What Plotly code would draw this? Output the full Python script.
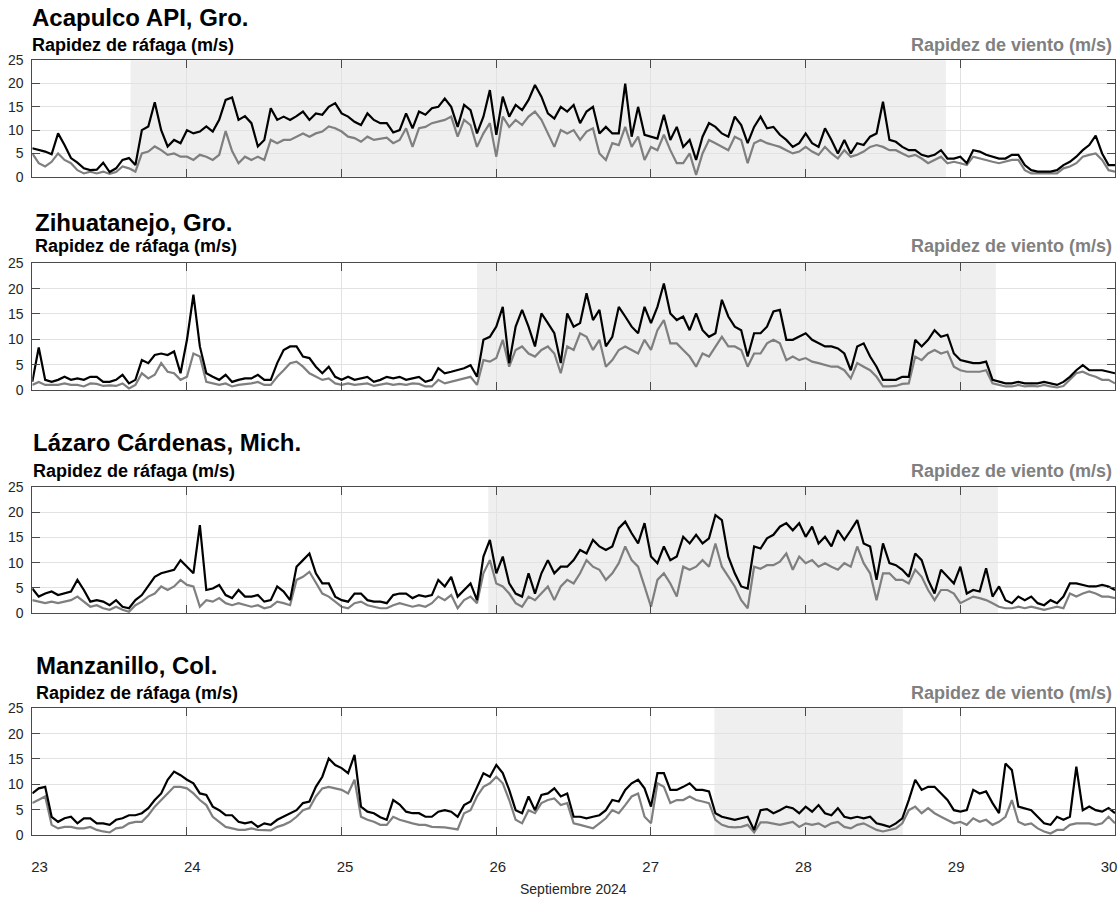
import plotly.graph_objects as go
import pandas as pd

# ---------------- data ----------------
start_time = "2024-09-23 00:00"
end_time = "2024-09-30 00:00"
times = pd.date_range(start_time, end_time, freq="1h")  # hourly, 169 samples

stations = ["Acapulco API, Gro.", "Zihuatanejo, Gro.", "Lázaro Cárdenas, Mich.", "Manzanillo, Col."]

day_ticks = ["2024-09-23", "2024-09-24", "2024-09-25", "2024-09-26",
             "2024-09-27", "2024-09-28", "2024-09-29", "2024-09-30"]
day_labels = ["23", "24", "25", "26", "27", "28", "29", "30"]
y_ticks = [0, 5, 10, 15, 20, 25]
x_axis_title = "Septiembre 2024"
gust_label = "Rapidez de ráfaga (m/s)"
wind_label = "Rapidez de viento (m/s)"

# shaded (alert) periods per station
shade_periods = [
    ("2024-09-23 15:15", "2024-09-28 21:45"),
    ("2024-09-25 21:00", "2024-09-29 05:30"),
    ("2024-09-25 22:45", "2024-09-29 05:50"),
    ("2024-09-27 09:50", "2024-09-28 15:05"),
]

acapulco_gust = [
    6.1, 5.7, 5.4, 4.8, 9.3, 6.8, 4.0, 3.0, 1.8, 1.4, 1.5, 3.0,
    1.0, 1.8, 3.6, 4.0, 2.5, 10.0, 10.8, 16.0, 10.0, 6.5, 7.9, 7.2,
    10.0, 9.3, 9.7, 10.8, 9.7, 12.2, 16.5, 17.0, 12.2, 13.0, 11.5, 6.5,
    7.9, 14.7, 12.2, 12.9, 12.2, 13.0, 14.0, 12.2, 13.6, 13.3, 15.0, 15.8,
    13.6, 12.9, 11.8, 11.1, 13.6, 12.2, 11.5, 11.5, 9.5, 10.0, 13.6, 10.4,
    14.0, 13.3, 14.7, 15.0, 16.8, 15.0, 10.7, 15.4, 14.3, 9.3, 12.9, 18.6,
    9.0, 17.2, 12.9, 15.4, 14.3, 16.5, 19.7, 17.2, 13.6, 12.5, 15.0, 14.0,
    15.4, 11.5, 14.0, 15.0, 9.3, 10.7, 9.3, 9.3, 20.0, 8.6, 15.0, 9.0,
    8.6, 8.2, 13.3, 7.9, 10.7, 6.4, 7.9, 3.6, 8.6, 11.5, 10.7, 9.3,
    8.6, 12.9, 11.1, 7.2, 10.7, 12.9, 10.4, 10.7, 9.0, 7.9, 6.4, 7.2,
    9.3, 7.2, 6.4, 10.4, 7.9, 5.0, 7.9, 5.0, 7.2, 6.8, 8.6, 9.3,
    16.1, 7.9, 7.5, 6.4, 5.7, 5.7, 4.7, 4.3, 4.7, 5.7, 3.9, 3.9,
    4.3, 2.9, 5.7, 5.4, 4.7, 4.3, 3.9, 3.9, 4.7, 4.7, 2.5, 1.4,
    1.1, 1.1, 1.1, 1.4, 2.5, 3.2, 4.3, 5.7, 6.8, 8.8, 5.0, 2.5,
    2.5,
]
acapulco_wind = [
    5.0, 2.9, 2.2, 3.2, 5.0, 3.6, 2.9, 1.4, 0.7, 1.1, 0.7, 1.1,
    0.6, 1.0, 2.2, 1.8, 1.1, 5.0, 5.4, 6.5, 5.7, 4.7, 5.0, 4.3,
    4.3, 3.6, 4.7, 4.3, 3.6, 4.7, 9.8, 5.5, 2.9, 4.3, 3.6, 4.3,
    3.6, 7.9, 7.2, 7.9, 7.9, 8.6, 9.3, 8.6, 9.3, 9.7, 10.8, 10.4,
    9.7, 8.6, 8.3, 7.5, 8.6, 7.9, 8.2, 8.4, 7.2, 7.9, 10.4, 6.4,
    10.4, 10.7, 11.5, 11.8, 12.2, 12.9, 8.6, 12.2, 11.1, 6.4, 9.3, 11.5,
    4.3, 12.9, 10.7, 12.2, 11.1, 12.9, 14.0, 12.2, 9.3, 6.4, 10.0, 9.3,
    10.0, 7.9, 9.7, 10.4, 5.0, 3.6, 7.2, 6.8, 10.7, 6.4, 8.6, 3.6,
    6.4, 5.7, 9.0, 5.7, 2.9, 2.9, 5.0, 0.4, 5.0, 7.9, 7.2, 6.4,
    5.7, 8.6, 7.9, 2.9, 7.2, 7.9, 7.2, 6.8, 6.4, 5.7, 5.0, 5.4,
    6.4, 5.4, 4.7, 6.4, 5.0, 3.9, 5.7, 4.3, 4.7, 5.4, 6.4, 6.8,
    6.4, 5.7, 5.7, 5.0, 4.3, 4.7, 3.9, 2.9, 3.6, 4.3, 2.9, 3.2,
    2.9, 2.5, 4.3, 3.9, 3.6, 3.2, 2.9, 3.2, 3.6, 3.6, 1.4, 0.7,
    0.7, 0.6, 0.7, 0.7, 1.8, 2.2, 2.9, 4.3, 4.7, 5.0, 3.6, 1.4,
    1.1,
]

zihuatanejo_gust = [
    1.6, 8.4, 2.0, 1.6, 2.0, 2.6, 2.0, 2.3, 2.0, 2.6, 2.6, 1.6,
    1.6, 2.0, 3.0, 1.3, 2.0, 5.9, 5.3, 6.9, 7.2, 6.9, 7.6, 3.3,
    9.9, 18.8, 8.6, 3.3, 2.6, 2.0, 3.0, 1.6, 2.0, 2.3, 2.3, 3.0,
    2.0, 2.0, 5.3, 7.9, 8.6, 8.6, 6.6, 6.3, 4.6, 3.3, 4.6, 2.6,
    2.0, 2.6, 2.0, 2.3, 2.6, 1.6, 2.0, 2.6, 2.3, 2.6, 2.0, 2.3,
    2.6, 1.6, 2.0, 4.3, 3.3, 3.6, 3.9, 4.3, 4.9, 2.6, 9.9, 10.5,
    12.5, 16.4, 5.3, 12.5, 15.8, 12.5, 8.6, 15.1, 13.2, 11.2, 5.3, 15.1,
    12.5, 13.2, 19.1, 13.8, 15.8, 8.6, 10.5, 16.4, 14.5, 12.5, 11.2, 16.4,
    13.2, 16.4, 21.0, 15.1, 13.8, 14.5, 11.8, 15.1, 11.8, 10.5, 11.2, 17.8,
    14.5, 12.5, 11.8, 6.6, 11.2, 11.2, 12.5, 15.5, 15.8, 9.9, 9.9, 10.5,
    11.2, 9.9, 9.2, 8.6, 8.6, 8.2, 7.2, 3.9, 8.6, 9.2, 6.6, 4.6,
    2.0, 2.0, 2.0, 2.6, 2.6, 9.9, 8.6, 9.9, 11.8, 10.5, 10.9, 7.2,
    5.9, 5.6, 5.3, 5.3, 5.6, 2.0, 1.6, 1.3, 1.3, 1.6, 1.3, 1.3,
    1.3, 1.6, 1.3, 1.0, 1.6, 2.6, 3.9, 4.9, 3.9, 3.9, 3.9, 3.6,
    3.3,
]
zihuatanejo_wind = [
    1.0, 1.6, 1.0, 1.0, 1.0, 1.3, 1.0, 1.0, 0.7, 1.3, 1.2, 0.8,
    0.9, 0.8, 1.3, 0.3, 1.0, 3.3, 2.3, 3.0, 5.3, 3.6, 3.3, 2.0,
    2.6, 7.2, 6.6, 1.6, 1.3, 1.0, 1.3, 0.7, 1.0, 1.1, 1.3, 1.6,
    1.0, 1.0, 2.6, 3.9, 5.3, 5.6, 4.6, 3.3, 2.6, 2.0, 2.3, 1.3,
    1.0, 1.3, 1.0, 1.1, 1.3, 0.8, 1.0, 1.3, 1.0, 1.2, 1.0, 1.3,
    1.2, 0.7, 0.7, 2.0, 1.3, 1.6, 2.0, 2.3, 2.6, 1.0, 5.9, 5.6,
    6.3, 9.9, 4.6, 7.9, 8.6, 7.2, 6.6, 7.9, 8.6, 7.2, 3.3, 8.6,
    7.9, 11.2, 10.5, 7.9, 9.9, 4.6, 5.9, 7.9, 8.6, 7.9, 7.2, 9.9,
    7.9, 11.8, 13.8, 9.2, 9.2, 7.9, 6.6, 4.6, 7.2, 6.6, 8.6, 10.5,
    8.6, 8.6, 7.9, 4.6, 7.2, 7.2, 9.2, 9.9, 9.2, 5.9, 6.6, 5.9,
    6.3, 5.6, 5.3, 4.9, 4.6, 4.6, 3.9, 2.3, 5.3, 4.6, 3.9, 2.6,
    0.7, 0.7, 0.8, 1.2, 1.3, 6.6, 5.9, 7.2, 7.9, 7.2, 7.6, 4.6,
    3.9, 3.6, 3.6, 3.6, 3.9, 1.3, 1.0, 0.7, 0.7, 1.0, 0.7, 0.8,
    0.7, 1.0, 0.7, 0.5, 0.8, 2.0, 3.3, 3.6, 3.0, 2.6, 2.0, 2.0,
    1.3,
]

lazaro_gust = [
    4.9, 3.3, 3.9, 4.3, 3.6, 3.9, 4.3, 6.6, 4.6, 2.3, 2.6, 2.3,
    1.6, 2.6, 1.3, 1.0, 2.6, 3.6, 5.3, 7.2, 7.9, 8.2, 8.6, 10.5,
    9.2, 7.9, 17.4, 4.6, 4.9, 5.6, 3.6, 3.0, 4.6, 3.3, 3.3, 3.6,
    2.3, 2.6, 5.3, 4.3, 2.6, 9.2, 10.5, 11.8, 7.9, 5.9, 5.9, 3.3,
    2.6, 2.3, 3.9, 3.9, 2.6, 2.3, 2.3, 2.0, 3.6, 3.9, 3.9, 3.0,
    3.6, 3.3, 3.6, 6.6, 5.3, 7.2, 3.3, 4.6, 5.9, 2.6, 11.2, 14.5,
    7.9, 11.2, 5.9, 3.9, 3.3, 7.9, 3.9, 7.9, 10.5, 7.9, 9.2, 9.2,
    10.5, 12.5, 11.8, 14.5, 13.2, 12.5, 13.2, 16.8, 18.1, 15.8, 13.8, 17.8,
    11.2, 9.9, 13.2, 10.5, 11.2, 15.1, 13.8, 15.5, 13.8, 14.8, 19.4, 18.4,
    11.2, 7.9, 5.3, 4.9, 13.2, 12.8, 14.8, 15.5, 17.1, 17.8, 16.4, 17.8,
    15.1, 17.1, 13.8, 15.1, 13.2, 16.4, 14.5, 16.4, 18.4, 13.8, 13.2, 6.6,
    13.8, 9.9, 9.5, 8.6, 7.2, 11.8, 10.5, 6.6, 3.9, 8.6, 7.2, 5.9,
    9.2, 3.9, 4.6, 4.3, 8.9, 3.3, 5.3, 2.6, 2.0, 3.3, 2.6, 3.3,
    2.0, 1.6, 2.6, 2.0, 3.3, 5.9, 5.9, 5.6, 5.3, 5.3, 5.6, 5.3,
    4.6,
]
lazaro_wind = [
    2.6, 2.3, 2.0, 2.3, 2.0, 2.3, 2.6, 3.3, 2.3, 1.3, 1.6, 1.0,
    0.7, 1.3, 0.7, 0.3, 1.6, 2.3, 3.3, 3.9, 5.3, 4.6, 5.3, 6.6,
    5.6, 5.3, 1.3, 2.6, 2.3, 3.0, 2.0, 1.6, 2.0, 1.6, 1.3, 1.6,
    1.0, 1.3, 2.3, 2.0, 1.6, 6.6, 7.2, 8.2, 5.9, 3.9, 3.3, 2.3,
    1.3, 1.0, 2.0, 2.3, 1.6, 1.3, 1.0, 1.0, 1.6, 2.0, 1.6, 1.3,
    1.6, 1.3, 2.0, 3.3, 2.6, 3.6, 1.0, 2.6, 3.3, 2.0, 7.9, 10.5,
    5.9, 5.3, 3.9, 2.0, 1.3, 3.3, 2.6, 3.9, 5.3, 2.6, 5.3, 6.6,
    5.9, 7.9, 10.5, 9.2, 8.6, 6.6, 7.9, 9.9, 13.2, 10.5, 9.2, 5.3,
    1.3, 6.6, 7.9, 5.9, 3.3, 9.2, 8.6, 9.2, 10.5, 9.2, 13.8, 9.2,
    7.2, 5.3, 2.6, 1.0, 9.2, 8.8, 9.5, 9.5, 10.2, 11.8, 8.6, 11.2,
    9.9, 10.5, 9.2, 9.9, 9.2, 8.6, 9.9, 9.2, 13.2, 9.9, 7.9, 2.6,
    7.9, 7.9, 6.6, 6.6, 5.9, 8.6, 7.2, 4.6, 2.6, 4.6, 4.6, 3.9,
    2.0, 2.6, 3.3, 3.0, 2.6, 2.0, 1.3, 1.0, 1.0, 1.3, 1.0, 1.3,
    1.0, 0.7, 1.0, 1.3, 1.0, 3.9, 3.3, 3.9, 4.3, 3.9, 3.3, 3.3,
    3.0,
]

manzanillo_gust = [
    8.2, 9.2, 9.5, 3.6, 2.6, 3.3, 3.6, 2.3, 3.3, 3.3, 2.3, 2.3,
    2.0, 3.0, 3.3, 3.9, 3.9, 4.3, 5.3, 6.9, 8.2, 10.9, 12.5, 11.8,
    10.9, 10.2, 8.2, 7.9, 5.6, 4.9, 3.9, 3.9, 2.6, 2.3, 2.6, 1.6,
    2.3, 2.0, 3.0, 3.6, 4.3, 4.9, 6.3, 6.6, 9.5, 11.5, 15.1, 13.8,
    13.2, 12.2, 15.8, 5.6, 4.6, 4.3, 3.5, 3.0, 6.9, 6.0, 4.6, 4.3,
    4.3, 3.6, 3.6, 4.6, 4.9, 4.6, 3.6, 5.9, 6.6, 9.5, 12.2, 11.5,
    13.8, 12.2, 8.9, 4.9, 4.3, 7.6, 4.9, 7.9, 8.2, 9.2, 7.6, 8.2,
    3.6, 3.6, 3.3, 3.6, 3.9, 4.9, 6.9, 6.6, 8.9, 10.2, 10.9, 9.2,
    5.6, 12.2, 12.2, 8.9, 8.9, 9.5, 10.2, 8.9, 8.9, 8.6, 4.3, 3.6,
    3.3, 3.0, 3.3, 3.6, 1.0, 4.9, 5.1, 4.3, 4.9, 5.6, 5.3, 4.3,
    5.6, 4.6, 5.9, 4.3, 3.9, 5.3, 3.6, 3.3, 3.6, 3.3, 3.6, 2.3,
    2.0, 1.6, 2.3, 3.3, 6.9, 10.9, 8.9, 9.5, 9.5, 8.2, 6.9, 4.9,
    4.6, 4.9, 8.9, 8.2, 8.6, 6.3, 4.3, 14.1, 12.8, 5.6, 5.3, 4.9,
    3.6, 2.3, 2.0, 3.6, 3.0, 3.6, 13.5, 4.9, 5.6, 4.9, 4.6, 5.3,
    4.3,
]
manzanillo_wind = [
    6.3, 6.9, 7.6, 2.0, 1.3, 1.6, 1.6, 1.3, 1.3, 1.6, 1.0, 0.7,
    0.5, 1.3, 1.5, 2.3, 2.6, 2.6, 3.9, 5.6, 6.9, 8.2, 9.5, 9.5,
    9.2, 8.2, 6.9, 5.9, 3.6, 2.6, 1.6, 1.3, 1.0, 1.0, 1.3, 1.0,
    1.0, 0.9, 1.6, 2.0, 2.6, 3.6, 4.9, 5.3, 7.6, 9.2, 9.5, 9.2,
    8.9, 8.2, 10.9, 3.6, 3.0, 2.6, 2.0, 2.0, 3.6, 3.0, 2.6, 2.3,
    2.0, 2.0, 1.6, 1.6, 1.5, 1.3, 1.1, 4.3, 4.9, 7.6, 9.5, 10.2,
    11.5, 10.2, 6.9, 3.0, 2.3, 4.9, 4.3, 6.3, 6.9, 7.2, 5.9, 6.3,
    2.3, 2.0, 1.6, 1.3, 2.3, 3.3, 4.9, 4.3, 5.9, 7.6, 8.2, 3.6,
    2.3, 10.2, 9.5, 6.3, 6.9, 6.9, 7.6, 6.9, 6.6, 6.3, 3.0, 2.0,
    1.6, 1.5, 1.6, 2.0, 0.5, 2.5, 2.5, 2.3, 2.0, 2.3, 2.6, 1.6,
    2.3, 2.0, 2.3, 1.6, 2.3, 2.6, 1.6, 1.3, 2.0, 2.3, 1.6, 1.0,
    0.7, 1.0, 1.3, 2.3, 4.9, 5.6, 4.3, 5.3, 4.3, 3.6, 3.0, 2.3,
    2.6, 2.0, 3.3, 2.6, 3.0, 2.0, 2.6, 3.6, 6.9, 2.6, 2.0, 2.3,
    1.3, 0.7, 0.3, 1.0, 1.0, 2.0, 2.3, 2.3, 2.3, 2.0, 2.3, 3.6,
    2.3,
]

gust_series = [acapulco_gust, zihuatanejo_gust, lazaro_gust, manzanillo_gust]
wind_series = [acapulco_wind, zihuatanejo_wind, lazaro_wind, manzanillo_wind]
for s in gust_series + wind_series:
    assert len(s) == len(times), len(s)

# ---------------- layout (pixel geometry) ----------------
W, H = 1119, 898
FONT = "Liberation Sans, Arial, Helvetica, sans-serif"
PLOT_L, PLOT_R = 32.3, 1115.0
panel_px = [(60.3, 176.7), (263.3, 390.0), (486.7, 613.3), (708.3, 835.0)]
title_y = [18, 222, 442, 665]
label_y = [45, 246, 471, 693]
title_x = [30, 33, 31, 34]

# the day labels under the last panel sit on a slightly narrower scale
LABEL_FIRST_PX, LABEL_LAST_PX = 39.5, 1109.0

GRID = "#e2e2e2"
FRAME = "#4a4a4a"


def py(v):
    return 1 - v / H


t0 = pd.Timestamp(start_time)
t1 = pd.Timestamp(end_time)
span = t1 - t0
px_per_time = (LABEL_LAST_PX - LABEL_FIRST_PX) / span.total_seconds()
lab_start = t0 - pd.Timedelta(seconds=(LABEL_FIRST_PX - PLOT_L) / px_per_time)
lab_end = t1 + pd.Timedelta(seconds=(PLOT_R - LABEL_LAST_PX) / px_per_time)

fig = go.Figure()
annotations = []
shapes = []
layout = {}

for i in range(4):
    sfx = "" if i == 0 else str(i + 1)
    xa, ya = "x" + sfx, "y" + sfx
    fig.add_trace(go.Scatter(x=times, y=wind_series[i], mode="lines",
                             line=dict(color="#7f7f7f", width=2.2),
                             xaxis=xa, yaxis=ya, showlegend=False,
                             name=wind_label))
    fig.add_trace(go.Scatter(x=times, y=gust_series[i], mode="lines",
                             line=dict(color="#000000", width=2.2),
                             xaxis=xa, yaxis=ya, showlegend=False,
                             name=gust_label))
    top, bot = panel_px[i]
    layout["xaxis" + sfx] = dict(
        domain=[PLOT_L / W, PLOT_R / W], anchor=ya, type="date",
        range=[start_time, end_time],
        tickvals=day_ticks, ticktext=day_labels,
        showticklabels=False, ticks="inside", ticklen=8, tickcolor=FRAME,
        showgrid=True, gridcolor=GRID, gridwidth=1,
        showline=True, linecolor=FRAME, linewidth=1, mirror="ticks",
        zeroline=False, automargin=False,
    )
    layout["yaxis" + sfx] = dict(
        domain=[py(bot), py(top)], anchor=xa, range=[0, 25],
        tickvals=y_ticks, ticks="inside", ticklen=8, tickcolor=FRAME,
        showgrid=True, gridcolor=GRID, gridwidth=1,
        showline=True, linecolor=FRAME, linewidth=1, mirror="ticks",
        zeroline=False, automargin=False,
        tickfont=dict(family=FONT, size=14, color="#262626"),
        ticklabelstandoff=5,
    )
    s0, s1 = shade_periods[i]
    shapes.append(dict(type="rect", xref=xa, yref=ya + " domain",
                       x0=s0, x1=s1, y0=0, y1=1, fillcolor="#efefef",
                       line=dict(width=0), layer="below"))
    annotations.append(dict(text=stations[i], xref="paper", yref="paper",
                            x=title_x[i] / W, y=py(title_y[i]),
                            xanchor="left", yanchor="middle", showarrow=False,
                            font=dict(family=FONT, size=24, color="#000000", weight="bold")))
    annotations.append(dict(text=gust_label, xref="paper", yref="paper",
                            x=title_x[i] / W, y=py(label_y[i]),
                            xanchor="left", yanchor="middle", showarrow=False,
                            font=dict(family=FONT, size=18, color="#000000", weight="bold")))
    annotations.append(dict(text=wind_label, xref="paper", yref="paper",
                            x=1114 / W, y=py(label_y[i]),
                            xanchor="right", yanchor="middle", showarrow=False,
                            font=dict(family=FONT, size=18, color="#808080", weight="bold")))

# day-label axis (overlaid on the bottom panel, labels only)
fig.add_trace(go.Scatter(x=times, y=manzanillo_wind, mode="lines",
                         line=dict(color="rgba(0,0,0,0)", width=0),
                         xaxis="x5", yaxis="y4", showlegend=False,
                         hoverinfo="skip", opacity=0))
layout["xaxis5"] = dict(
    overlaying="x4", anchor="y4", side="bottom", type="date",
    range=[lab_start, lab_end],
    tickvals=day_ticks, ticktext=day_labels,
    showticklabels=True, ticks="", showgrid=False, showline=False,
    zeroline=False, automargin=False, ticklabeloverflow="allow",
    tickfont=dict(family=FONT, size=15, color="#262626"),
    ticklabelstandoff=21,
)

annotations.append(dict(text=x_axis_title, xref="paper", yref="paper",
                        x=(PLOT_L + PLOT_R) / 2 / W, y=py(889),
                        xanchor="center", yanchor="middle", showarrow=False,
                        font=dict(family=FONT, size=14, color="#262626")))

fig.update_layout(
    width=W, height=H, autosize=False,
    margin=dict(l=0, r=0, t=0, b=0, pad=0),
    paper_bgcolor="white", plot_bgcolor="white",
    shapes=shapes, annotations=annotations,
    font=dict(family=FONT),
    **layout,
)

post = (
    "document.documentElement.style.margin='0';"
    "document.documentElement.style.overflow='hidden';"
    "document.body.style.margin='0';"
    "document.body.style.overflow='hidden';"
    "Plotly.relayout('{plot_id}', {width: 1119, height: 898});"
)
fig.write_html("out.html", config={"displayModeBar": False, "responsive": False},
               post_script=post)
